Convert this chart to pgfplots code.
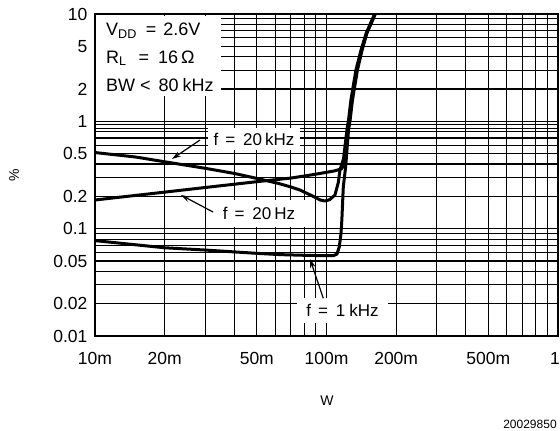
\documentclass[border=0pt]{standalone}
\usepackage{fontspec}
\setmainfont{Liberation Sans}
\usepackage{pgfplots}
\pgfplotsset{compat=1.18}
\usetikzlibrary{arrows.meta}
\begin{document}
\begin{tikzpicture}
\useasboundingbox (-95pt,-95pt) rectangle (465pt,336pt);
\begin{axis}[
  scale only axis, width=463pt, height=322pt,
  anchor=south west, at={(0pt,0pt)},
  xmode=log, ymode=log,
  xmin=0.01, xmax=1, ymin=0.01, ymax=10,
  xtick={0.01,0.02,0.05,0.1,0.2,0.5,1},
  xticklabels={10m,20m,50m,100m,200m,500m,\hspace*{-6pt}1},
  ytick={0.01,0.02,0.05,0.1,0.2,0.5,1,2,5,10},
  yticklabels={0.01,0.02,0.05,0.1,0.2,0.5,1,2,5,10},
  minor xtick={0.03,0.04,0.06,0.07,0.08,0.09,0.3,0.4,0.6,0.7,0.8,0.9},
  minor ytick={0.03,0.04,0.06,0.07,0.08,0.09,0.3,0.4,0.6,0.7,0.8,0.86,0.94,3,4,6,7,8,9},
  grid=both,
  major grid style={black, line width=1.1pt},
  minor grid style={black, line width=1.1pt},
  major tick length=0pt, minor tick length=0pt,
  axis line style={black, line width=2pt},
  tick label style={font=\fontsize{17.5}{20}\selectfont},
  xticklabel style={yshift=-13pt},
  yticklabel style={xshift=-4pt},
  /pgf/number format/assume math mode=true,
  xlabel={W}, ylabel={\%},
  xlabel style={at={(axis description cs:0.501,-0.202)}, anchor=center, font=\fontsize{14}{16}\selectfont},
  ylabel style={at={(axis description cs:-0.175,0.5)}, anchor=center, font=\fontsize{14}{16}\selectfont},
]
% white label boxes (cover the grid)
\fill[white] (rel axis cs:0.0032,0.7438) rectangle (rel axis cs:0.2721,0.9953);
\node[fill=white, inner xsep=6pt, inner ysep=4.8pt, font=\fontsize{17}{20}\selectfont]
  at (rel axis cs:0.3434,0.6118) {f\hspace{7pt}=\hspace{8pt}20\hspace{3pt}kHz};
\node[fill=white, inner xsep=13pt, inner ysep=7pt, font=\fontsize{17}{20}\selectfont]
  at (rel axis cs:0.3542,0.3804) {f\hspace{7pt}=\hspace{8pt}20\hspace{3pt}Hz};
\node[fill=white, inner xsep=9.5pt, inner ysep=6.5pt, font=\fontsize{17}{20}\selectfont]
  at (rel axis cs:0.5346,0.0792) {f\hspace{7pt}=\hspace{8pt}1\hspace{4pt}kHz};
% legend text
\node[anchor=base west, inner sep=0pt, font=\fontsize{18}{20}\selectfont] at (rel axis cs:0.0238,0.9317)
  {V\textsubscript{DD}\hspace{9pt}=\hspace{7pt}2.6V};
\node[anchor=base west, inner sep=0pt, font=\fontsize{18}{20}\selectfont] at (rel axis cs:0.0238,0.8478)
  {R\textsubscript{L}\hspace{12pt}=\hspace{9pt}16\,Ω};
\node[anchor=base west, inner sep=0pt, font=\fontsize{18}{20}\selectfont] at (rel axis cs:0.0238,0.7578)
  {BW\hspace{5pt}<\hspace{8pt}80\hspace{4pt}kHz};
% curves
\addplot[black, line width=3pt, line join=round] coordinates {
(0.01,0.512)(0.015,0.465)(0.02,0.42)(0.03,0.365)(0.04,0.327)(0.05,0.294)(0.062,0.264)(0.07,0.245)(0.0768,0.229)(0.0877,0.2)(0.094,0.185)(0.0985,0.181)(0.103,0.186)(0.1088,0.2057)(0.1125,0.27)(0.1143,0.352)(0.1185,0.45)(0.1225,0.829)(0.1245,1.03)(0.1275,1.58)(0.134,3.0)(0.141,4.62)(0.1485,6.65)(0.1615,10)};
\addplot[black, line width=3pt, line join=round] coordinates {
(0.01,0.185)(0.02,0.219)(0.03,0.242)(0.05,0.274)(0.07,0.296)(0.0768,0.305)(0.09,0.322)(0.1,0.335)(0.108,0.345)(0.116,0.36)(0.1195,0.40)(0.1235,0.829)(0.1255,1.03)(0.1285,1.58)(0.1351,3.0)(0.142,4.62)(0.1492,6.65)(0.162,10)};
\addplot[black, line width=3pt, line join=round] coordinates {
(0.01,0.0774)(0.02,0.0664)(0.03,0.0632)(0.05,0.0589)(0.063,0.0573)(0.08,0.0565)(0.1,0.056)(0.107,0.056)(0.111,0.058)(0.1136,0.068)(0.1155,0.09)(0.1165,0.12)(0.1182,0.2457)(0.121,0.3775)(0.1245,0.829)(0.1265,1.03)(0.1295,1.58)(0.136,3.0)(0.1425,4.62)(0.1495,6.65)(0.1625,10)};
% arrows
\draw[black, line width=1.2pt, -{Stealth[length=9pt,width=5.5pt]}] (rel axis cs:0.2268,0.6087) -- (rel axis cs:0.1663,0.5497);
\draw[black, line width=1.2pt, -{Stealth[length=9pt,width=5.5pt]}] (rel axis cs:0.2549,0.3851) -- (rel axis cs:0.1857,0.4379);
\draw[black, line width=1.2pt, -{Stealth[length=9pt,width=5.5pt]}] (rel axis cs:0.4931,0.1171) -- (rel axis cs:0.4644,0.2391);
\end{axis}
\node[font=\fontsize{12}{14}\selectfont] at (435pt,-88pt) {20029850};
\end{tikzpicture}
\end{document}
